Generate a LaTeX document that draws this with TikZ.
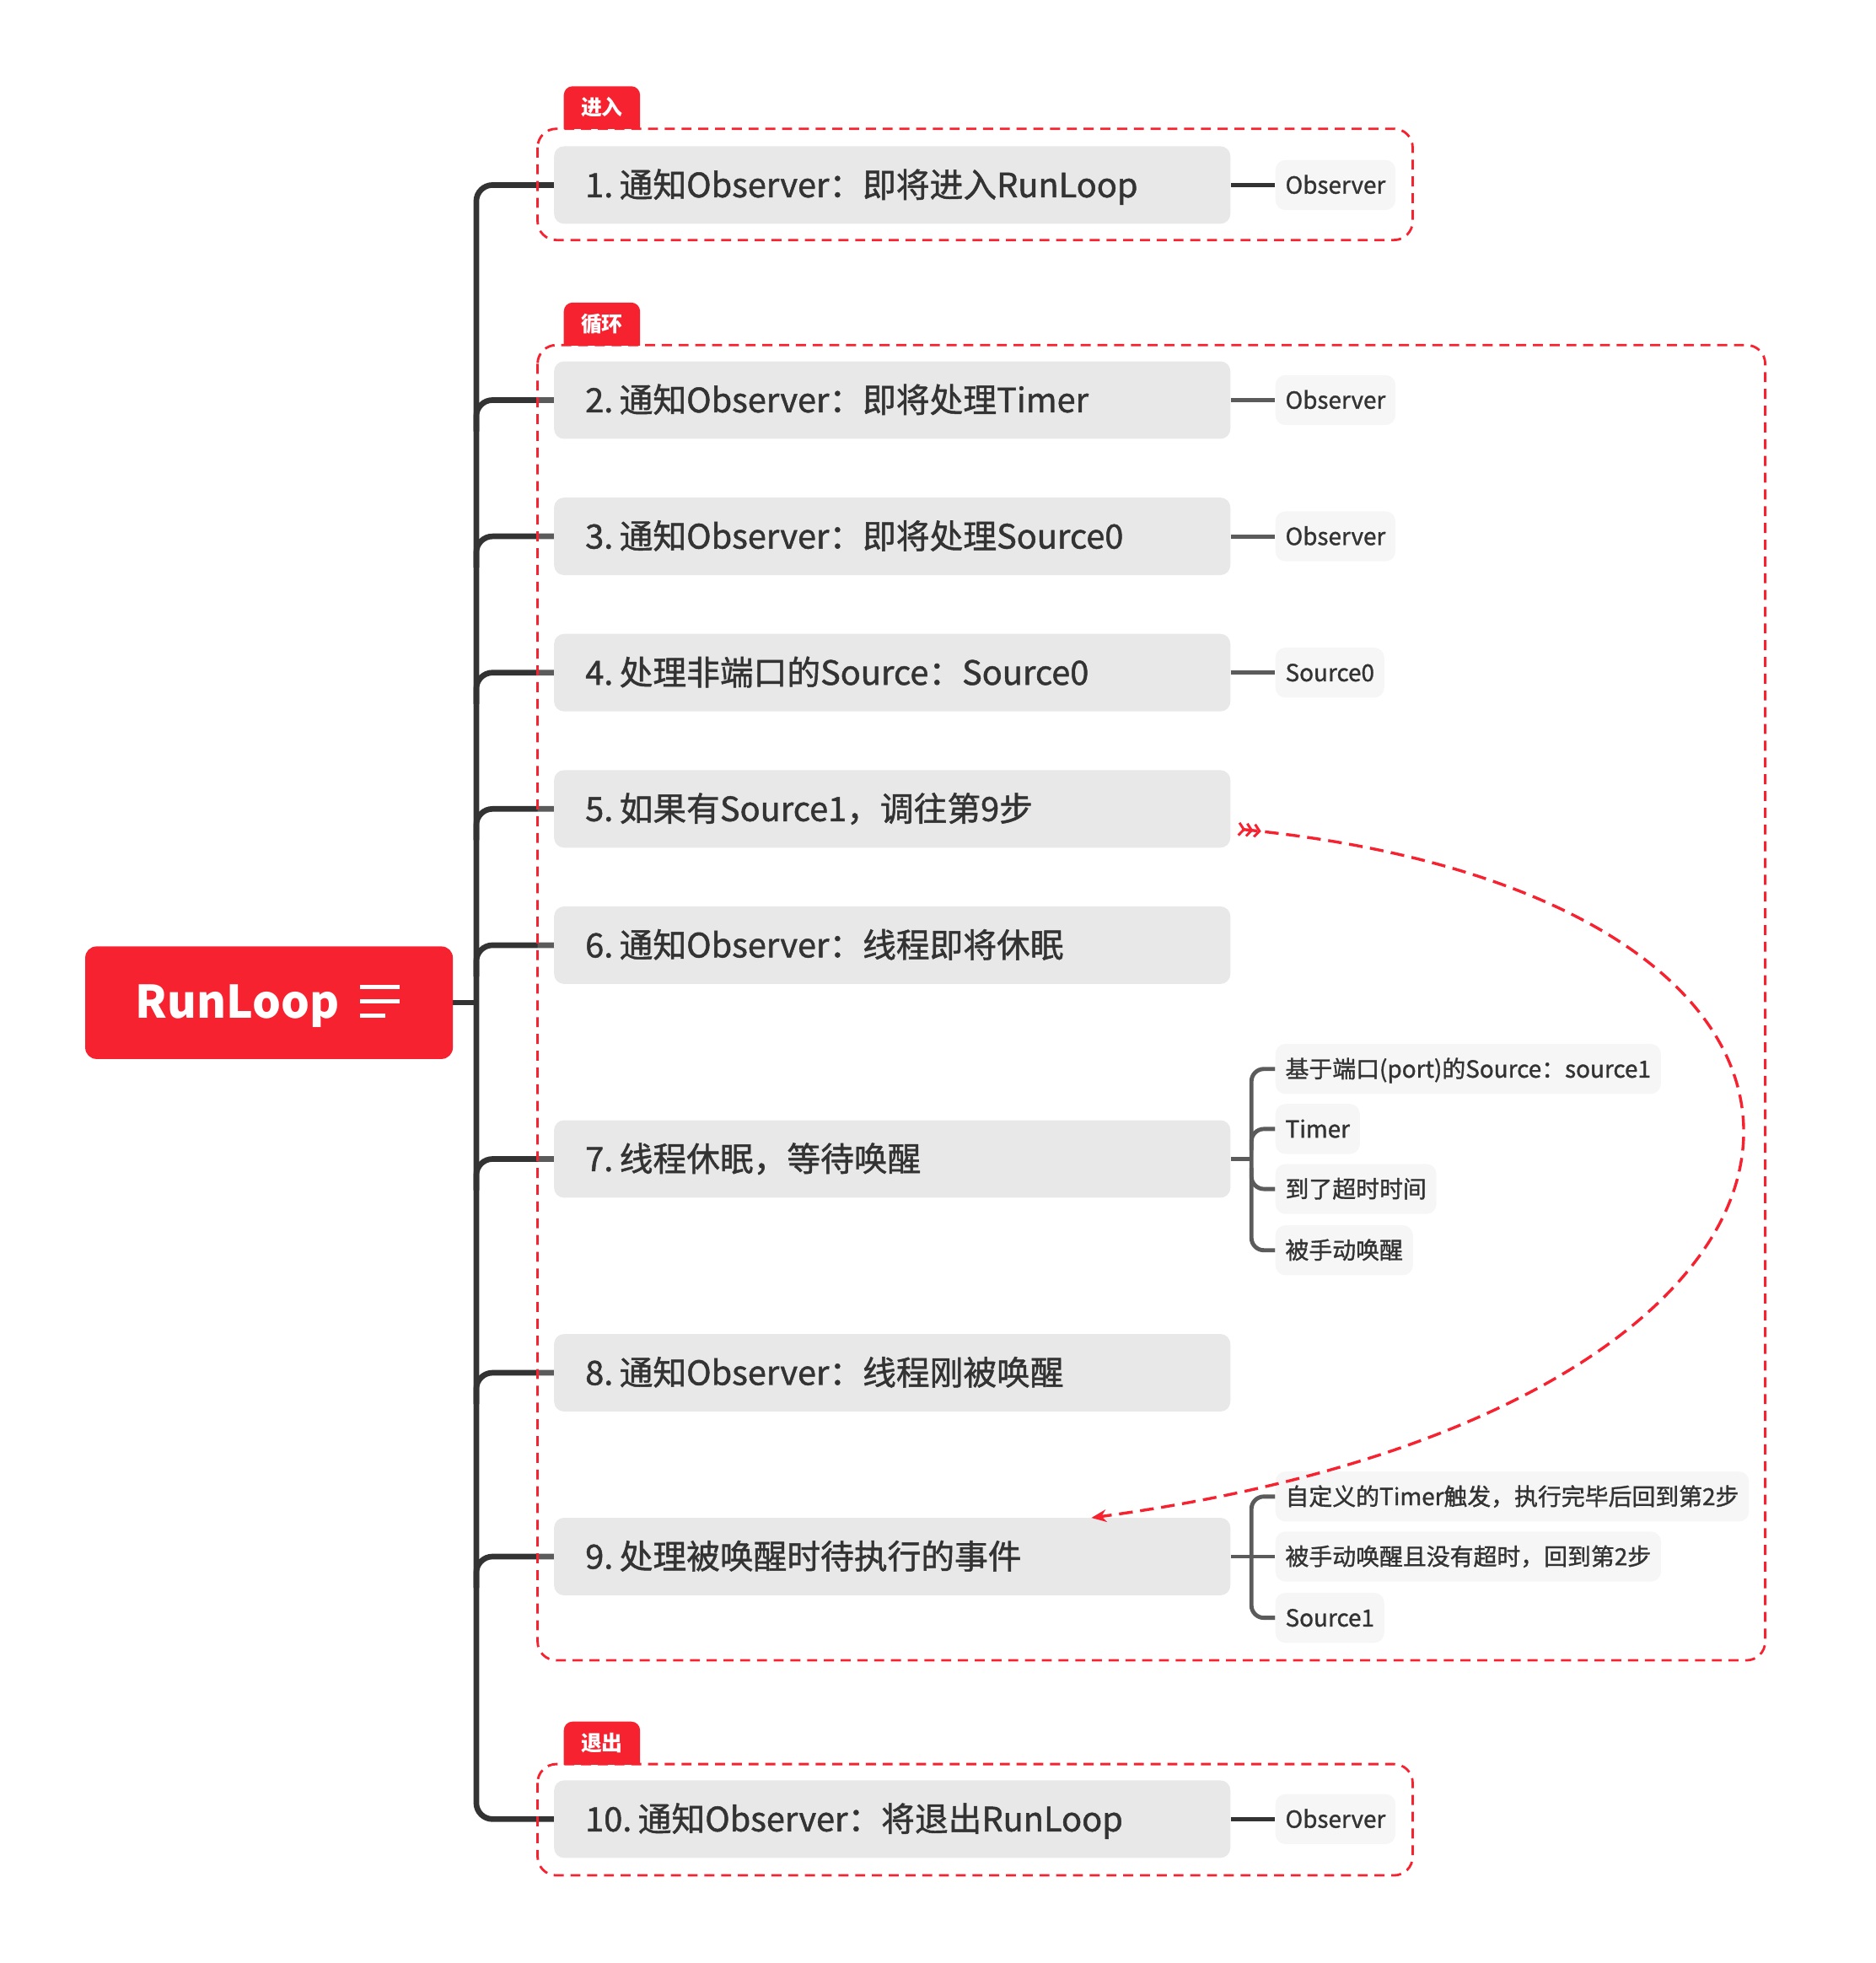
\documentclass[tikz,border=0pt]{standalone}
\usepackage{fontspec}
\setmainfont{Noto Sans CJK SC}
\newfontfamily\medfont[FakeBold=1.2]{Noto Sans CJK SC}
\usetikzlibrary{arrows.meta}
\definecolor{xred}{RGB}{247,34,48}
\definecolor{dark}{RGB}{51,51,51}
\definecolor{mainfill}{RGB}{232,232,232}
\definecolor{subfill}{RGB}{246,246,246}
\definecolor{txt}{RGB}{51,51,51}
\pgfdeclarelayer{bg}
\pgfdeclarelayer{mid}
\pgfsetlayers{bg,mid,main}
\tikzset{
  mainnode/.style={fill=mainfill, rounded corners=8pt, anchor=west, minimum height=62pt,
    text width=491pt, inner xsep=25pt, inner ysep=0pt, align=left,
    text height=23pt, text depth=3.5pt,
    font=\medfont\fontsize{26.8}{30}\selectfont, text=txt},
  subnode/.style={fill=subfill, rounded corners=8pt, anchor=west, minimum height=40pt,
    inner xsep=8pt, inner ysep=0pt, text height=16.3pt, text depth=2.5pt,
    font=\medfont\fontsize{18.8}{22}\selectfont, text=txt},
  rootnode/.style={fill=xred, rounded corners=9pt, anchor=west, minimum height=90pt,
    text width=214pt, inner xsep=40pt, inner ysep=0pt, align=left,
    text height=29pt, text depth=4pt,
    font=\bfseries\fontsize{36}{40}\selectfont, text=white},
  tagtext/.style={inner sep=0pt, font=\bfseries\fontsize{16.8}{18}\selectfont, text=white},
  trunk/.style={draw=dark, line width=4.5pt, rounded corners=13pt},
  subline/.style={draw=dark, line width=3.3pt, rounded corners=10pt},
  dashbox/.style={draw=xred, line width=1.9pt, dash pattern=on 8pt off 5.4pt, rounded corners=15pt},
  jumpcurve/.style={draw=xred, line width=2.3pt, dash pattern=on 11pt off 6pt,
    {Straight Barb[reversed,length=4pt,width=10pt,line width=2pt]
     Straight Barb[reversed,length=4pt,width=10pt,line width=2pt]
     Straight Barb[reversed,length=4pt,width=10pt,line width=2pt]}-{Stealth[length=12pt,width=10pt]}},
}
\begin{document}
\begin{tikzpicture}[x=1pt,y=-1pt]
\useasboundingbox (0,0) rectangle (1500,1570.1);

% tags (shapes)
\begin{scope}
  \clip (440,60) rectangle (520,103);
  \fill[xred, rounded corners=7pt] (451,69) rectangle (512,115);
\end{scope}
\begin{scope}
  \clip (440,230) rectangle (520,276);
  \fill[xred, rounded corners=7pt] (451,242) rectangle (512,290);
\end{scope}
\begin{scope}
  \clip (440,1365) rectangle (520,1411);
  \fill[xred, rounded corners=7pt] (451,1377) rectangle (512,1425);
\end{scope}
\node[tagtext] (t1) at (481.5,86) {进入};
\node[tagtext] (t2) at (481.5,259) {循环};
\node[tagtext] (t3) at (481.5,1394) {退出};

% root
\node[rootnode] (root) at (68,802) {RunLoop};
\draw[white, line width=3pt] (288,789.5) -- (320,789.5) (288,801) -- (320,801) (288,812.5) -- (308,812.5);

% main nodes
\node[mainnode] (n1) at (443,148) {1.\hspace{5pt}通知Observer：即将进入RunLoop};
\node[mainnode] (n2) at (443,320) {2.\hspace{5pt}通知Observer：即将处理Timer};
\node[mainnode] (n3) at (443,429) {3.\hspace{5pt}通知Observer：即将处理Source0};
\node[mainnode] (n4) at (443,538) {4.\hspace{5pt}处理非端口的Source：Source0};
\node[mainnode] (n5) at (443,647) {5.\hspace{5pt}如果有Source1，调往第9步};
\node[mainnode] (n6) at (443,756) {6.\hspace{5pt}通知Observer：线程即将休眠};
\node[mainnode] (n7) at (443,927) {7.\hspace{5pt}线程休眠，等待唤醒};
\node[mainnode] (n8) at (443,1098) {8.\hspace{5pt}通知Observer：线程刚被唤醒};
\node[mainnode] (n9) at (443,1245) {9.\hspace{5pt}处理被唤醒时待执行的事件};
\node[mainnode] (n10) at (443,1455) {10.\hspace{5pt}通知Observer：将退出RunLoop};

% sub nodes
\node[subnode] (o1) at (1020,148) {Observer};
\node[subnode] (o2) at (1020,320) {Observer};
\node[subnode] (o3) at (1020,429) {Observer};
\node[subnode] (o4) at (1020,538) {Source0};
\node[subnode] (s71) at (1020,855) {基于端口(port)的Source：source1};
\node[subnode] (s72) at (1020,903) {Timer};
\node[subnode] (s73) at (1020,951) {到了超时时间};
\node[subnode] (s74) at (1020,1000) {被手动唤醒};
\node[subnode] (s91) at (1020,1197) {自定义的Timer触发，执行完毕后回到第2步};
\node[subnode] (s92) at (1020,1245) {被手动唤醒且没有超时，回到第2步};
\node[subnode] (s93) at (1020,1294) {Source1};
\node[subnode] (o10) at (1020,1455) {Observer};

% jump curve
\coordinate (cs) at (990,663);
\coordinate (ce) at (873,1214);
\draw[jumpcurve] (cs) .. controls (1560,720) and (1530,1125) .. (ce);

% connectors
\begin{pgfonlayer}{bg}
  \draw[trunk] (root.east) -- (381,802);
  \draw[trunk] (n1.west) -| (381,802) |- (n10.west);
  \draw[trunk] (381,345) |- (n2.west);
  \draw[trunk] (381,454) |- (n3.west);
  \draw[trunk] (381,563) |- (n4.west);
  \draw[trunk] (381,672) |- (n5.west);
  \draw[trunk] (381,781) |- (n6.west);
  \draw[trunk] (381,952) |- (n7.west);
  \draw[trunk] (381,1123) |- (n8.west);
  \draw[trunk] (381,1270) |- (n9.west);
  \draw[subline] (n1.east) -- (o1.west);
  \draw[subline] (n2.east) -- (o2.west);
  \draw[subline] (n3.east) -- (o3.west);
  \draw[subline] (n4.east) -- (o4.west);
  \draw[subline] (n10.east) -- (o10.west);
  \draw[subline] (n7.east) -- (1001,927);
  \draw[subline] (s71.west) -| (1001,927) |- (s74.west);
  \draw[subline] (1001,920) |- (s72.west);
  \draw[subline] (1001,934) |- (s73.west);
  \draw[subline] (n9.east) -- (s92.west);
  \draw[subline] (s91.west) -| (1001,1245) |- (s93.west);
\end{pgfonlayer}

% dashed group boxes
\begin{pgfonlayer}{mid}
  \draw[dashbox] (430,103) rectangle (1130,192);
  \draw[dashbox, fill=white, fill opacity=0.2] (430,276) rectangle (1412,1328);
  \draw[dashbox] (430,1411) rectangle (1130,1500);
\end{pgfonlayer}
\end{tikzpicture}
\end{document}
